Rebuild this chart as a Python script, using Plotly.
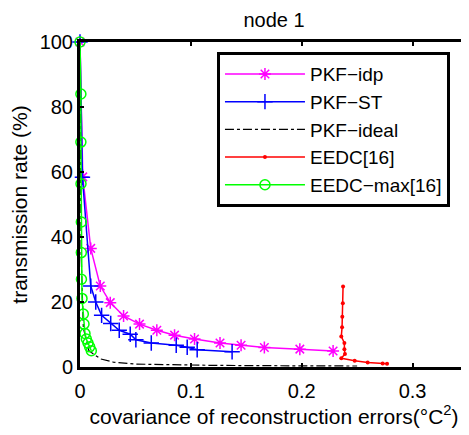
import plotly.graph_objects as go

# PKF-idp
idp_x = [0.0, 0.0025, 0.0097, 0.0183, 0.0273, 0.0393, 0.0537, 0.0693, 0.0853, 0.1033, 0.1263, 0.1453, 0.1663, 0.1983, 0.2283]
idp_y = [100, 58.5, 36.5, 24.9, 19.8, 15.7, 13.2, 11.3, 9.8, 8.6, 7.4, 6.7, 6.0, 5.5, 4.9]

# PKF-ST
st_x = [0.0, 0.0022, 0.0097, 0.0142, 0.0195, 0.0277, 0.0354, 0.0453, 0.0504, 0.0643, 0.0868, 0.0967, 0.1057, 0.1372]
st_y = [100, 58.4, 24.9, 20.0, 15.9, 13.4, 11.3, 10.1, 8.4, 7.4, 6.7, 6.1, 5.3, 4.7]

# PKF-ideal
ideal_x = [0.0, 0.001, 0.003, 0.008, 0.0185, 0.03, 0.05, 0.08, 0.12, 0.17, 0.22, 0.25]
ideal_y = [100, 35, 12, 5.0, 2.5, 1.5, 0.9, 0.65, 0.5, 0.4, 0.33, 0.3]

# EEDC[16]
eedc_x = [0.2373, 0.2371, 0.2366, 0.2364, 0.2357, 0.2385, 0.2385, 0.2390, 0.2357, 0.2478, 0.2595, 0.2730, 0.2770]
eedc_y = [24.8, 19.6, 15.5, 12.2, 9.4, 7.4, 5.5, 4.0, 2.7, 1.9, 1.4, 1.1, 1.0]

# EEDC-max[16]
max_x = [0.0, 0.0008, 0.0008, 0.0009, 0.0012, 0.0012, 0.0013, 0.0018, 0.003, 0.0036, 0.0045, 0.0057, 0.0072, 0.0087, 0.0102]
max_y = [100, 84.0, 69.2, 56.4, 44.6, 35.2, 27.0, 21.1, 16.3, 13.2, 10.3, 8.6, 7.4, 6.2, 5.0]

x_ticks = [0, 0.1, 0.2, 0.3]
x_tick_labels = ["0", "0.1", "0.2", "0.3"]
y_ticks = [0, 20, 40, 60, 80, 100]
y_tick_labels = ["0", "20", "40", "60", "80", "100"]

fig = go.Figure()
fig.add_trace(go.Scatter(x=idp_x, y=idp_y, name="PKF\u2212idp", mode="lines+markers",
                         line=dict(color="#ff00ff", width=1.5),
                         marker=dict(symbol="asterisk-open", size=10, color="#ff00ff", line=dict(width=1.5, color="#ff00ff")),
                         cliponaxis=False))
fig.add_trace(go.Scatter(x=st_x, y=st_y, name="PKF\u2212ST", mode="lines+markers",
                         line=dict(color="#0000ff", width=1.5),
                         marker=dict(symbol="cross-thin-open", size=11, color="#0000ff", line=dict(width=1.5, color="#0000ff")),
                         cliponaxis=False))
fig.add_trace(go.Scatter(x=ideal_x, y=ideal_y, name="PKF\u2212ideal", mode="lines",
                         line=dict(color="black", width=1.2, dash="dashdot")))
fig.add_trace(go.Scatter(x=eedc_x, y=eedc_y, name="EEDC[16]", mode="lines+markers",
                         line=dict(color="#ff0000", width=1.5),
                         marker=dict(symbol="circle", size=4, color="#ff0000"),
                         cliponaxis=False))
fig.add_trace(go.Scatter(x=max_x, y=max_y, name="EEDC\u2212max[16]", mode="lines+markers",
                         line=dict(color="#00ff00", width=1.5),
                         marker=dict(symbol="circle-open", size=10, color="#00ff00", line=dict(width=1.5, color="#00ff00")),
                         cliponaxis=False))

font_family = "Liberation Sans, Arial, sans-serif"

fig.update_layout(
    width=461, height=427,
    margin=dict(l=72, r=1, t=34, b=68, autoexpand=False),
    paper_bgcolor="white", plot_bgcolor="white",
    font=dict(family=font_family, size=20, color="black"),
    title=dict(text="node 1", x=0.5, xref="paper", xanchor="center", y=0.972, yanchor="middle",
               font=dict(size=20, family=font_family, color="black")),
    showlegend=True,
    legend=dict(x=0.353, y=0.969, xanchor="left", yanchor="top",
                bgcolor="white", bordercolor="black", borderwidth=3,
                font=dict(size=19, family=font_family, color="black"),
                itemwidth=80, tracegroupgap=0),
)
fig.update_xaxes(range=[0, 0.35], tickvals=x_ticks, ticktext=x_tick_labels,
                 showline=True, linecolor="black", linewidth=3, mirror="ticks",
                 ticks="inside", ticklen=4, tickwidth=2, tickcolor="black",
                 showgrid=False, zeroline=False, automargin=False,
                 tickfont=dict(size=20), ticklabelstandoff=4,
                 title=dict(text="covariance of reconstruction errors(°C<sup>2</sup>)", standoff=6,
                            font=dict(size=21)))
fig.update_yaxes(range=[0, 100], tickvals=y_ticks, ticktext=y_tick_labels,
                 showline=True, linecolor="black", linewidth=3, mirror="ticks",
                 ticks="inside", ticklen=4, tickwidth=2, tickcolor="black",
                 showgrid=False, zeroline=False, automargin=False,
                 tickfont=dict(size=20),
                 title=dict(text="transmission rate (%)", standoff=12, font=dict(size=21)))

fig.write_html("out.html")
